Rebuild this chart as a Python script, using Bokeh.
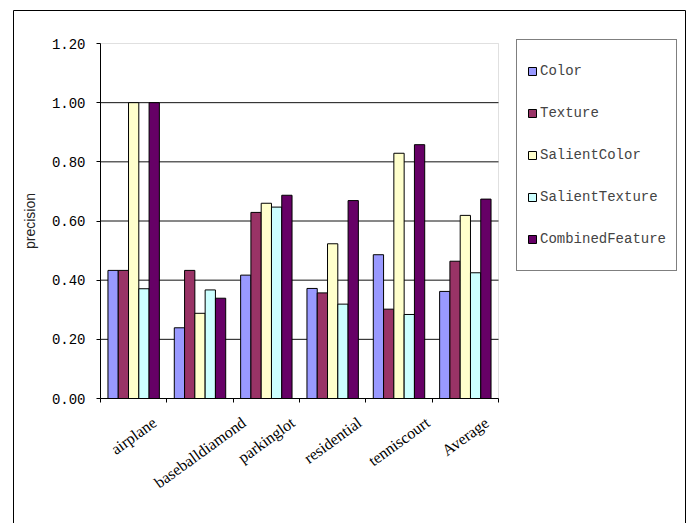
import math
from bokeh.plotting import figure
from bokeh.models import (ColumnDataSource, Range1d, FixedTicker, LinearAxis, Grid,
                          LabelSet, Legend, LegendItem, BoxAnnotation, NumeralTickFormatter,
                          CustomJSTickFormatter)
from bokeh.transform import dodge
from bokeh.embed import file_html
from bokeh.resources import INLINE

# ---------------- data ----------------
categories = ["airplane", "baseballdiamond", "parkinglot", "residential", "tenniscourt", "Average"]
series_names = ["Color", "Texture", "SalientColor", "SalientTexture", "CombinedFeature"]
color_vals = [0.433, 0.239, 0.417, 0.372, 0.486, 0.362]
texture_vals = [0.433, 0.433, 0.629, 0.357, 0.302, 0.464]
salient_color_vals = [1.00, 0.288, 0.660, 0.523, 0.829, 0.619]
salient_texture_vals = [0.371, 0.367, 0.647, 0.319, 0.284, 0.425]
combined_vals = [1.00, 0.339, 0.687, 0.669, 0.858, 0.674]
y_ticks = [0.0, 0.2, 0.4, 0.6, 0.8, 1.0, 1.2]
y_label = "precision"

# ---------------- styles / layout ----------------
bar_colors = ["#9999FF", "#993366", "#FFFFCC", "#CCFFFF", "#660066"]
BAR_W = 0.155
XFS = 16           # x label font size (px)
ANG = math.radians(36)
W, H = 691, 523
PL, PR, PT, PB = 100, 498, 43, 398   # plot-area edges in pixels

ncat = len(categories)
slot_centers = [i + 0.5 for i in range(ncat)]   # category slots on a 0..ncat axis
ymin, ymax = y_ticks[0], y_ticks[-1]
xs = (PR - PL) / ncat
ys = (PB - PT) / (ymax - ymin)

p = figure(width=W, height=H,
           x_range=Range1d(-PL / xs, ncat + (W - PR) / xs),
           y_range=Range1d(ymin - (H - PB) / ys, ymax + PT / ys),
           output_backend="svg", toolbar_location=None,
           x_axis_location=None, y_axis_location=None,
           min_border=0)
p.background_fill_color = "white"
p.border_fill_color = "white"
p.outline_line_color = None
for g in p.select(type=Grid):
    g.visible = False

# plot-area border (grey) behind everything
p.add_layout(BoxAnnotation(left=0, right=ncat, bottom=ymin, top=ymax, fill_alpha=0,
                           line_color="#999999", line_width=1, level="underlay"))

# horizontal grid lines across the plot area only
grid_vals = y_ticks[1:-1]
p.segment(x0=[0] * len(grid_vals), x1=[ncat] * len(grid_vals), y0=grid_vals, y1=grid_vals,
          line_color="#111111", line_width=1)

src = ColumnDataSource(dict(xc=slot_centers, cat=categories, Color=color_vals, Texture=texture_vals,
                            SalientColor=salient_color_vals, SalientTexture=salient_texture_vals,
                            CombinedFeature=combined_vals))

n = len(series_names)
renderers = []
for k, (name, col) in enumerate(zip(series_names, bar_colors)):
    off = (k - (n - 1) / 2) * BAR_W
    r = p.vbar(x=dodge("xc", off), top=name, width=BAR_W, source=src,
               fill_color=col, line_color="black", line_width=1)
    renderers.append(r)

# y axis
yax = LinearAxis(fixed_location=0, bounds=(ymin, ymax), ticker=FixedTicker(ticks=y_ticks),
                 formatter=NumeralTickFormatter(format="0.00"),
                 major_tick_out=4, major_tick_in=0, minor_tick_line_color=None,
                 axis_line_color="black", major_tick_line_color="black",
                 major_label_standoff=11, major_label_text_font="Liberation Mono",
                 major_label_text_font_size="14px", major_label_text_color="black",
                 axis_label=y_label, axis_label_text_font="Liberation Sans",
                 axis_label_text_font_size="14px", axis_label_text_font_style="normal",
                 axis_label_text_color="#222222", axis_label_standoff=11)
p.add_layout(yax, "left")

# x axis: ticks at category boundaries, labels drawn separately
xax = LinearAxis(fixed_location=0, bounds=(0, ncat), ticker=FixedTicker(ticks=list(range(ncat + 1))),
                 formatter=CustomJSTickFormatter(code="return ''"),
                 major_tick_out=4, major_tick_in=0, minor_tick_line_color=None,
                 axis_line_color="black", major_tick_line_color="black")
p.add_layout(xax, "below")

# rotated category labels centred under each group
char_em = {"a": .444, "b": .5, "c": .444, "d": .5, "e": .444, "g": .5, "i": .278, "k": .5,
           "l": .278, "m": .778, "n": .5, "o": .5, "p": .5, "r": .333, "s": .389, "t": .278,
           "u": .5, "v": .5, "A": .722}
def text_w(s):
    return sum(char_em.get(c, 0.5) for c in s) * XFS
offsets = [-(15 + (text_w(s) * math.sin(ANG) + XFS * 1.1 * math.cos(ANG)) / 2) for s in categories]
lab_src = ColumnDataSource(dict(xc=slot_centers, cat=categories, yo=offsets))
labels = LabelSet(x="xc", y=0, y_offset="yo", text="cat", source=lab_src, angle=ANG,
                  text_align="center", text_baseline="middle", text_font="Liberation Serif",
                  text_font_size=f"{XFS}px", text_color="black")
p.add_layout(labels)

# legend
legend = Legend(items=[LegendItem(label=nm, renderers=[r]) for nm, r in zip(series_names, renderers)],
                location=(516, H - 271), glyph_width=10, glyph_height=10, label_standoff=3,
                label_text_font="Liberation Mono", label_text_font_size="14px",
                label_height=42, spacing=0, padding=10, margin=0,
                border_line_color="black", border_line_width=1,
                background_fill_color="white", background_fill_alpha=1)
p.add_layout(legend)

# outer chart border
outer = BoxAnnotation(left=13, right=685, top=10, bottom=540,
                      left_units="canvas", right_units="canvas",
                      top_units="canvas", bottom_units="canvas",
                      fill_alpha=0, line_color="black", line_width=1, line_alpha=1)
p.add_layout(outer)

open("out.html", "w").write(file_html(p, INLINE))
